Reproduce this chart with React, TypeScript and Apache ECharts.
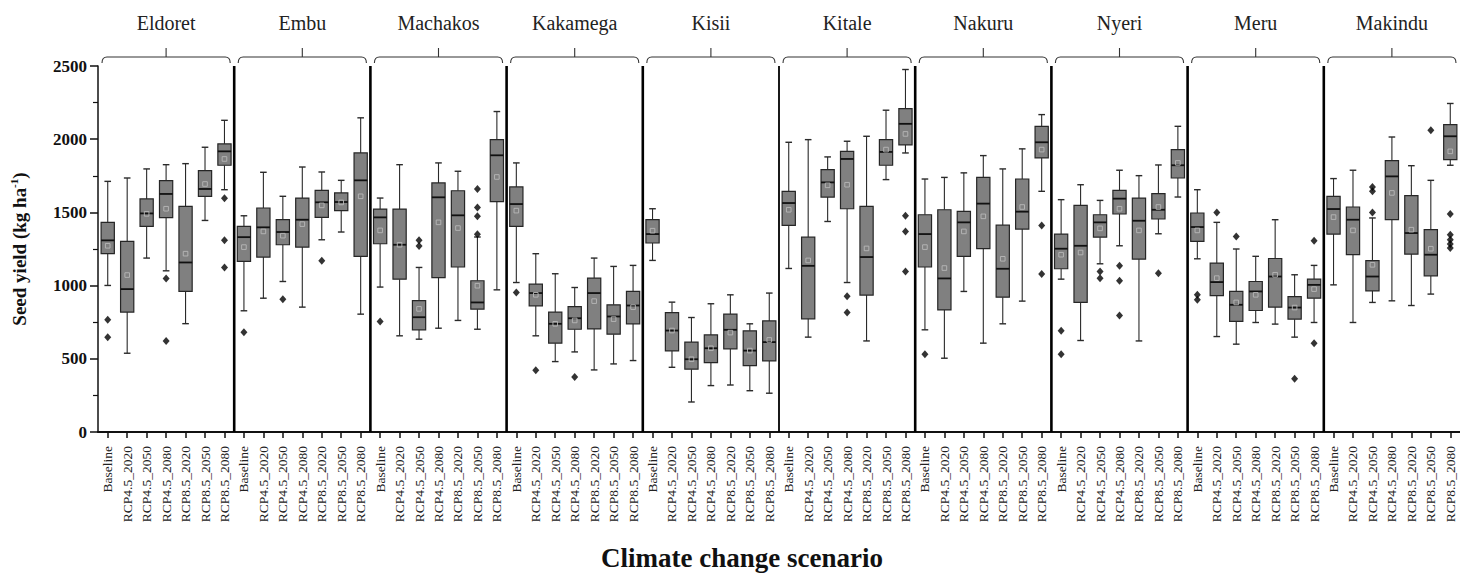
import React, { useEffect, useRef } from "react";
import * as echarts from "echarts";

const sites = ["Eldoret", "Embu", "Machakos", "Kakamega", "Kisii", "Kitale", "Nakuru", "Nyeri", "Meru", "Makindu"];
const scenarios = ["Baseline", "RCP4.5_2020", "RCP4.5_2050", "RCP4.5_2080", "RCP8.5_2020", "RCP8.5_2050", "RCP8.5_2080"];

// each row: [whiskerLow, Q1, median, Q3, whiskerHigh, mean]
const eldoret = [
  [1001, 1218, 1309, 1432, 1712, 1272],
  [538, 819, 976, 1302, 1735, 1072],
  [1188, 1404, 1493, 1592, 1797, 1490],
  [1101, 1464, 1626, 1717, 1826, 1525],
  [740, 960, 1158, 1541, 1833, 1218],
  [1445, 1610, 1660, 1785, 1945, 1694],
  [1655, 1822, 1917, 1968, 2129, 1865],
];
const embu = [
  [828, 1165, 1331, 1404, 1477, 1263],
  [914, 1195, 1398, 1530, 1774, 1370],
  [1028, 1279, 1366, 1450, 1610, 1341],
  [853, 1263, 1450, 1598, 1810, 1420],
  [1313, 1466, 1569, 1651, 1776, 1548],
  [1366, 1512, 1571, 1633, 1719, 1568],
  [805, 1200, 1719, 1906, 2146, 1610],
];
const machakos = [
  [990, 1286, 1466, 1523, 1598, 1377],
  [657, 1044, 1279, 1523, 1826, 1279],
  [634, 698, 784, 898, 1124, 841],
  [709, 1055, 1603, 1701, 1838, 1432],
  [762, 1127, 1480, 1648, 1781, 1393],
  [702, 839, 885, 1033, 1332, 999],
  [971, 1573, 1890, 1997, 2189, 1742],
];
const kakamega = [
  [1021, 1404, 1557, 1674, 1838, 1512],
  [657, 862, 949, 1010, 1218, 937],
  [481, 607, 739, 819, 1081, 739],
  [547, 702, 777, 857, 987, 762],
  [424, 704, 949, 1051, 1188, 894],
  [465, 668, 789, 869, 1131, 771],
  [488, 739, 864, 960, 1138, 853],
];
const kisii = [
  [1172, 1291, 1352, 1450, 1525, 1375],
  [442, 554, 693, 816, 887, 693],
  [205, 429, 497, 614, 782, 497],
  [317, 474, 572, 663, 876, 572],
  [321, 568, 698, 805, 937, 679],
  [282, 453, 556, 691, 739, 556],
  [265, 486, 614, 759, 949, 629],
];
const kitale = [
  [1117, 1411, 1564, 1644, 1979, 1518],
  [648, 773, 1135, 1331, 1997, 1172],
  [1438, 1605, 1705, 1792, 1879, 1685],
  [1021, 1525, 1865, 1917, 1986, 1689],
  [622, 935, 1195, 1541, 2020, 1254],
  [1724, 1822, 1913, 1997, 2198, 1929],
  [1906, 1961, 2105, 2209, 2476, 2036],
];
const nakuru = [
  [698, 1127, 1352, 1484, 1728, 1263],
  [504, 834, 1049, 1518, 1739, 1120],
  [960, 1200, 1432, 1507, 1770, 1370],
  [607, 1252, 1560, 1739, 1888, 1473],
  [739, 921, 1115, 1413, 1797, 1183],
  [894, 1386, 1505, 1728, 1934, 1537],
  [1644, 1872, 1979, 2088, 2168, 1929],
];
const nyeri = [
  [1044, 1115, 1252, 1352, 1587, 1211],
  [625, 885, 1272, 1548, 1689, 1226],
  [1149, 1331, 1432, 1484, 1582, 1391],
  [1272, 1489, 1594, 1651, 1788, 1525],
  [622, 1181, 1443, 1598, 1751, 1377],
  [1354, 1455, 1518, 1628, 1824, 1537],
  [1605, 1735, 1822, 1929, 2088, 1838],
];
const meru = [
  [1183, 1302, 1400, 1496, 1655, 1377],
  [652, 932, 1024, 1154, 1432, 1051],
  [600, 755, 869, 960, 1250, 885],
  [748, 830, 960, 1028, 1200, 937],
  [737, 853, 1062, 1185, 1450, 1074],
  [648, 771, 850, 925, 1074, 850],
  [748, 914, 1005, 1044, 1138, 976],
];
const makindu = [
  [1005, 1352, 1523, 1610, 1731, 1468],
  [748, 1211, 1450, 1537, 1788, 1377],
  [885, 964, 1062, 1170, 1462, 1142],
  [896, 1450, 1746, 1854, 2015, 1633],
  [864, 1215, 1359, 1614, 1819, 1382],
  [942, 1067, 1211, 1382, 1719, 1252],
  [1822, 1860, 2020, 2100, 2244, 1917],
];

// outliers per site: [scenarioIndex, value]
const eldoretOut = [[0, 766], [0, 648], [3, 1049], [3, 622], [6, 1596], [6, 1309], [6, 1124]];
const embuOut = [[0, 682], [2, 907], [4, 1170]];
const machakosOut = [[0, 755], [2, 1310], [2, 1270], [5, 1660], [5, 1534], [5, 1473], [5, 1350]];
const kakamegaOut = [[0, 953], [1, 422], [3, 376]];
const kisiiOut: number[][] = [];
const kitaleOut = [[3, 928], [3, 816], [6, 1477], [6, 1370], [6, 1097]];
const nakuruOut = [[0, 531], [6, 1411], [6, 1079]];
const nyeriOut = [[0, 691], [0, 531], [2, 1097], [2, 1051], [3, 1135], [3, 1033], [3, 796], [5, 1085]];
const meruOut = [[0, 937], [0, 903], [1, 1500], [2, 1336], [5, 363], [6, 1306], [6, 607]];
const makinduOut = [[2, 1674], [2, 1644], [2, 1500], [5, 2061], [6, 1489], [6, 1347], [6, 1313], [6, 1284], [6, 1256]];

const siteStats = [eldoret, embu, machakos, kakamega, kisii, kitale, nakuru, nyeri, meru, makindu];
const siteOutliers = [eldoretOut, embuOut, machakosOut, kakamegaOut, kisiiOut, kitaleOut, nakuruOut, nyeriOut, meruOut, makinduOut];

const SERIF = "'Liberation Serif', 'Times New Roman', Times, serif";

export default function App() {
  const ref = useRef<HTMLDivElement>(null);

  useEffect(() => {
    if (!ref.current) return;
    const chart = echarts.init(ref.current, undefined, { renderer: "svg" });
    const nPer = scenarios.length;
    const categories = sites.flatMap(() => scenarios);
    const boxData = siteStats.flatMap((site, g) => site.map((s, k) => [g * nPer + k, ...s]));
    const outData = siteOutliers.flatMap((list, g) => list.map(([k, v]) => [g * nPer + k, v]));
    const groupData = sites.map((name, g) => [g * nPer, g * nPer + nPer - 1, 2500, g]);

    chart.setOption({
      animation: false,
      grid: { left: 89.2, right: -7, top: 66, bottom: 143 },
      xAxis: {
        type: "category",
        data: categories,
        boundaryGap: true,
        axisLine: { show: true, lineStyle: { color: "#111", width: 2 } },
        axisTick: { show: true, alignWithLabel: true, interval: 0, length: 6, lineStyle: { color: "#111", width: 1.5 } },
        axisLabel: { interval: 0, rotate: 90, fontFamily: SERIF, fontSize: 13.5, color: "#222", margin: 14 },
        splitLine: { show: false },
      },
      yAxis: {
        type: "value",
        min: 0,
        max: 2500,
        interval: 500,
        name: "{a|Seed yield (kg ha}{b|-1}{a|)}",
        nameLocation: "middle",
        nameGap: 68,
        nameRotate: 90,
        nameTextStyle: {
          rich: {
            a: { fontFamily: SERIF, fontWeight: "bold", fontSize: 19, color: "#111", lineHeight: 22 },
            b: { fontFamily: SERIF, fontWeight: "bold", fontSize: 11, color: "#111", verticalAlign: "top", lineHeight: 12 },
          },
        },
        axisLine: { show: true, lineStyle: { color: "#111", width: 1.5 } },
        axisTick: { show: true, length: 8, lineStyle: { color: "#111", width: 1.5 } },
        minorTick: { show: true, splitNumber: 2, length: 5, lineStyle: { color: "#111", width: 1.2 } },
        axisLabel: {
          fontFamily: SERIF,
          fontWeight: "bold",
          fontSize: 17,
          color: "#111",
          margin: 11,
          formatter: (v: number) => String(v),
        },
        splitLine: { show: false },
        minorSplitLine: { show: false },
      },
      graphic: [
        {
          type: "text",
          x: 742,
          y: 558,
          style: {
            text: "Climate change scenario",
            fontFamily: SERIF,
            fontWeight: "bold",
            fontSize: 27,
            fill: "#111",
            align: "center",
            verticalAlign: "middle",
          },
        },
      ],
      series: [
        {
          type: "custom",
          name: "groups",
          clip: false,
          silent: true,
          data: groupData,
          encode: { x: [0, 1], y: 2 },
          renderItem: (params: any, api: any) => {
            const a = api.coord([api.value(0), 2500]);
            const b = api.coord([api.value(1), 2500]);
            const base = api.coord([api.value(0), 0]);
            const half = api.size([1, 0])[0] / 2;
            const g = api.value(3);
            const x0 = a[0] - half + 4;
            const x1 = b[0] + half - 4;
            const xc = (a[0] + b[0]) / 2;
            const yTop = a[1];
            const yb = yTop - 9;
            const children: any[] = [
              {
                type: "path",
                shape: {
                  pathData: `M${x0},${yTop - 3} Q${x0},${yb} ${x0 + 5},${yb} L${x1 - 5},${yb} Q${x1},${yb} ${x1},${yTop - 3} M${xc},${yb} L${xc},${yTop - 18}`,
                },
                style: { stroke: "#333", lineWidth: 1.1, fill: "none" },
              },
              {
                type: "text",
                x: xc,
                y: yTop - 43,
                style: {
                  text: sites[g],
                  fontFamily: SERIF,
                  fontSize: 20,
                  fill: "#222",
                  align: "center",
                  verticalAlign: "middle",
                },
              },
            ];
            if (g > 0) {
              const xs = a[0] - half;
              children.push({
                type: "line",
                shape: { x1: xs, y1: yTop, x2: xs, y2: base[1] },
                style: { stroke: "#000", lineWidth: g === 5 ? 1.8 : 2.6 },
              });
            }
            return { type: "group", children };
          },
        },
        {
          type: "custom",
          name: "boxes",
          clip: false,
          silent: true,
          data: boxData,
          encode: { x: 0, y: [1, 2, 3, 4, 5, 6] },
          renderItem: (params: any, api: any) => {
            const x = api.value(0);
            const px = api.coord([x, api.value(1)]);
            const cx = px[0];
            const yLow = px[1];
            const yQ1 = api.coord([x, api.value(2)])[1];
            const yMed = api.coord([x, api.value(3)])[1];
            const yQ3 = api.coord([x, api.value(4)])[1];
            const yHigh = api.coord([x, api.value(5)])[1];
            const yMean = api.coord([x, api.value(6)])[1];
            const band = api.size([1, 0])[0];
            const bw = band * 0.68;
            const cap = band * 0.34;
            const ms = 4.6;
            const lineStyle = { stroke: "#2a2a2a", lineWidth: 1.1 };
            return {
              type: "group",
              children: [
                { type: "line", shape: { x1: cx, y1: yHigh, x2: cx, y2: yQ3 }, style: lineStyle },
                { type: "line", shape: { x1: cx, y1: yQ1, x2: cx, y2: yLow }, style: lineStyle },
                { type: "line", shape: { x1: cx - cap / 2, y1: yHigh, x2: cx + cap / 2, y2: yHigh }, style: { stroke: "#2a2a2a", lineWidth: 1.4 } },
                { type: "line", shape: { x1: cx - cap / 2, y1: yLow, x2: cx + cap / 2, y2: yLow }, style: { stroke: "#2a2a2a", lineWidth: 1.4 } },
                {
                  type: "rect",
                  shape: { x: cx - bw / 2, y: yQ3, width: bw, height: yQ1 - yQ3 },
                  style: { fill: "#808080", stroke: "#262626", lineWidth: 1.2 },
                },
                { type: "line", shape: { x1: cx - bw / 2, y1: yMed, x2: cx + bw / 2, y2: yMed }, style: { stroke: "#111", lineWidth: 1.8 } },
                {
                  type: "rect",
                  shape: { x: cx - ms / 2, y: yMean - ms / 2, width: ms, height: ms },
                  style: { fill: "none", stroke: "#b8b8b8", lineWidth: 0.9 },
                },
              ],
            };
          },
        },
        {
          type: "scatter",
          name: "outliers",
          silent: true,
          symbol: "diamond",
          symbolSize: [7, 8],
          itemStyle: { color: "#000" },
          data: outData,
        },
      ],
    });
    return () => chart.dispose();
  }, []);

  return (
    <div
      ref={ref}
      style={{ position: "fixed", left: 0, top: 0, width: 1460, height: 575, background: "#fff", overflow: "hidden" }}
    />
  );
}
